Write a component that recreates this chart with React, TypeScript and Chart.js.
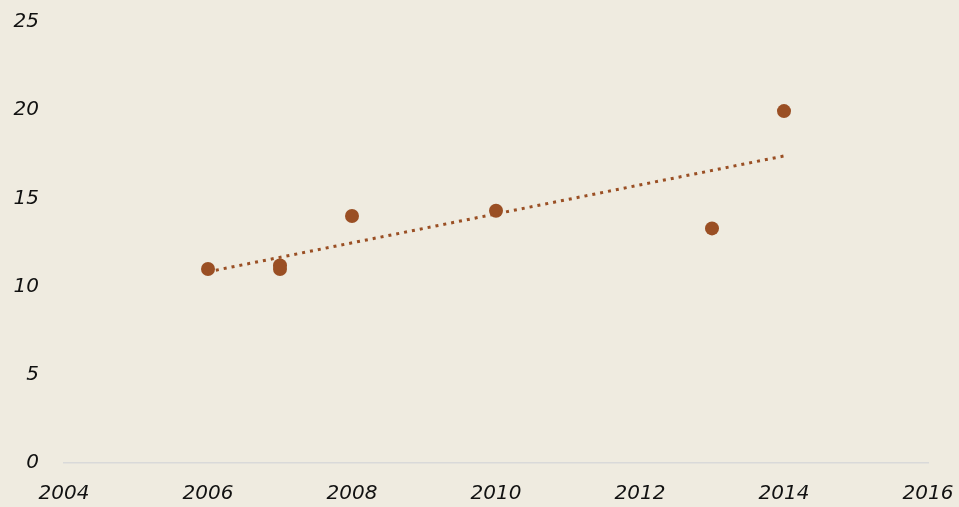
import React, { useEffect, useRef } from "react";
import { Chart, registerables } from "chart.js";

Chart.register(...registerables);

const years = [2006, 2007, 2007, 2008, 2010, 2013, 2014];
const values = [11.0, 11.2, 11.0, 14.0, 14.3, 13.3, 19.95];
const xTicks = [2004, 2006, 2008, 2010, 2012, 2014, 2016];
const yTicks = [0, 5, 10, 15, 20, 25];

const POINT_COLOR = "#9A4F24";
const BG = "#EFEBE0";

function trend(xs: number[], ys: number[]) {
  const n = xs.length;
  const mx = xs.reduce((a, b) => a + b, 0) / n;
  const my = ys.reduce((a, b) => a + b, 0) / n;
  let sxy = 0, sxx = 0;
  for (let i = 0; i < n; i++) {
    sxy += (xs[i] - mx) * (ys[i] - my);
    sxx += (xs[i] - mx) ** 2;
  }
  const b = sxy / sxx;
  const a = my - b * mx;
  const x0 = Math.min(...xs), x1 = Math.max(...xs);
  return [{ x: x0, y: a + b * x0 }, { x: x1, y: a + b * x1 }];
}

function noPad(s: any) {
  s.paddingLeft = 0;
  s.paddingRight = 0;
  s.paddingTop = 0;
  s.paddingBottom = 0;
}

export default function App() {
  const ref = useRef<HTMLCanvasElement>(null);
  useEffect(() => {
    const font = { family: "'DejaVu Sans', sans-serif", size: 20, style: "italic" as const };
    const chart = new Chart(ref.current!, {
      type: "scatter",
      data: {
        datasets: [
          {
            type: "line",
            data: trend(years, values),
            borderColor: POINT_COLOR,
            borderWidth: 3,
            borderDash: [3, 5],
            pointRadius: 0,
            fill: false,
          },
          {
            data: years.map((x, i) => ({ x, y: values[i] })),
            backgroundColor: POINT_COLOR,
            borderColor: POINT_COLOR,
            pointRadius: 7,
            borderWidth: 0,
          },
        ],
      },
      options: {
        animation: false,
        responsive: false,
        maintainAspectRatio: false,
        layout: { padding: { top: 22, right: 31, left: 0, bottom: 0 } },
        plugins: { legend: { display: false }, tooltip: { enabled: false } },
        scales: {
          x: {
            type: "linear",
            min: 2004,
            max: 2016,
            afterBuildTicks: (s: any) => { s.ticks = xTicks.map((v) => ({ value: v })); },
            afterFit: (s: any) => { s.height = 44; noPad(s); },
            grid: { display: false, drawTicks: false },
            border: { display: true, color: "#D9D9D9", width: 1.5 },
            ticks: { color: "#111", font, padding: 19, callback: (v: any) => String(v) },
          },
          y: {
            min: 0,
            max: 25,
            afterBuildTicks: (s: any) => { s.ticks = yTicks.map((v) => ({ value: v })); },
            afterFit: (s: any) => { s.width = 64; noPad(s); },
            grid: { display: false, drawTicks: false },
            border: { display: false },
            ticks: { color: "#111", font, padding: 25 },
          },
        },
      },
    });
    return () => chart.destroy();
  }, []);
  return (
    <div style={{ position: "fixed", left: 0, top: 0, width: 959, height: 507, background: BG }}>
      <canvas ref={ref} width={959} height={507} style={{ display: "block" }} />
    </div>
  );
}
